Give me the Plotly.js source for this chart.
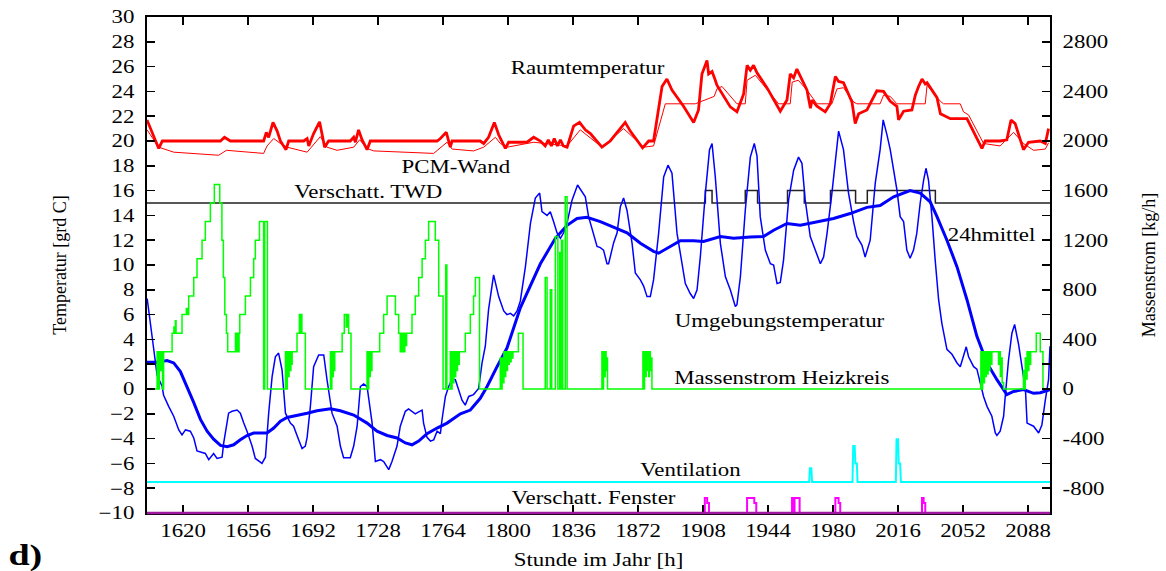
<!DOCTYPE html>
<html><head><meta charset="utf-8">
<script src="https://cdn.plot.ly/plotly-3.0.1.min.js"></script>
<style>body{margin:0;background:#fff}#chart{width:1166px;height:571px}</style>
</head><body><div id="chart"></div>
<script>
// ---- Data (hour of year) ----
const xTicks = [1620,1656,1692,1728,1764,1800,1836,1872,1908,1944,1980,2016,2052,2088];
const yTicks = [-10,-8,-6,-4,-2,0,2,4,6,8,10,12,14,16,18,20,22,24,26,28,30];
const y2Ticks = [-1000,-800,-600,-400,-200,0,200,400,600,800,1000,1200,1400,1600,1800,2000,2200,2400,2600,2800,3000];
const y2TickText = ['','-800','','-400','','0','','400','','800','','1200','','1600','','2000','','2400','','2800',''];

// Raumtemperatur (thick red)
const raumX = [1600,1606.5,1608.5,1640.7,1642.9,1646.2,1664.6,1666.1,1667.4,1669.8,1672.1,1673.9,1677.0,1678.5,1686.8,1688.7,1689.6,1692.3,1695.6,1697.0,1698.4,1700.6,1712.6,1714.5,1715.4,1717.2,1719.1,1721.9,1723.7,1760.7,1762.5,1765.8,1767.1,1768.0,1769.0,1784.6,1786.5,1789.2,1792.4,1794.8,1798.5,1800.3,1810.5,1814.2,1817.9,1820.6,1822.3,1824.0,1825.6,1827.3,1829.0,1830.6,1832.7,1836.3,1839.6,1842.8,1845.6,1852.0,1856.6,1862.2,1864.9,1867.7,1874.5,1877.9,1880.6,1885.3,1888.0,1890.8,1897.2,1902.8,1905.5,1907.4,1910.2,1911.1,1913.0,1914.8,1915.7,1923.1,1926.8,1930.5,1932.4,1934.2,1936.0,1937.9,1943.4,1950.8,1954.5,1956.3,1958.2,1960.0,1962.8,1965.6,1967.5,1968.4,1971.1,1975.7,1978.5,1981.3,1983.1,1985.8,1990.5,1992.3,1994.2,1998.8,2004.3,2008.0,2011.7,2015.4,2016.3,2019.1,2023.7,2025.6,2027.4,2029.3,2031.1,2032.1,2037.6,2039.5,2045.0,2052.3,2054.2,2062.5,2064.3,2072.6,2076.3,2078.6,2080.9,2085.5,2088.3,2094.8,2097.6,2099.4];
const raumY = [21.7,19.4,20.0,20.0,20.3,20.0,20.0,20.7,20.3,21.5,20.8,20.0,19.3,20.0,20.0,20.2,19.6,20.6,21.55,20.6,19.5,20.0,20.0,20.3,19.9,20.9,20.1,19.3,20.0,20.0,20.2,20.7,20.0,19.5,20.0,20.0,19.8,20.3,21.5,20.5,19.4,19.9,19.9,20.3,20.0,19.6,20.1,19.6,20.2,19.6,20.1,19.6,19.5,21.2,21.5,20.9,20.6,19.5,20.0,21.0,21.5,20.8,19.45,20.0,20.0,24.4,25.0,24.1,22.8,21.5,22.5,25.4,26.5,25.4,25.6,24.9,24.5,22.75,22.35,23.8,26.1,25.7,26.1,25.5,24.3,22.4,23.3,25.4,25.1,25.8,25.0,24.1,22.65,23.3,22.8,22.35,23.0,25.2,24.8,24.7,23.15,21.4,22.2,22.5,24.05,24.0,23.2,22.8,21.7,22.4,22.5,23.7,24.4,25.0,24.6,24.7,23.5,22.2,21.8,21.8,21.8,19.4,20.0,20.0,20.1,21.7,21.4,19.3,19.9,20.0,19.8,21.0];

// PCM-Wand (thin red)
const pcmX = [1600,1606.5,1614.8,1639.7,1644.0,1664.6,1666.5,1670.2,1673.9,1677.6,1688.7,1696.0,1699.7,1705.3,1714.5,1717.8,1721.9,1725.6,1758.8,1766.2,1769.0,1780.9,1786.5,1793.0,1795.7,1799.4,1814.2,1825.2,1832.7,1840.0,1852.0,1864.0,1875.1,1880.6,1887.1,1903.7,1914.2,1915.7,1918.5,1926.8,1931.4,1932.4,1937.0,1949.9,1956.3,1957.4,1960.8,1965.6,1971.1,1979.4,1982.2,1985.8,1991.4,1993.2,2006.1,2008.0,2011.7,2015.4,2031.1,2032.1,2039.5,2041.2,2050.5,2052.3,2055.1,2063.4,2072.6,2080.0,2085.5,2091.1,2097.6,2099.4];
const pcmY = [20.9,19.5,19.1,18.85,19.25,19.0,19.6,20.2,19.8,19.5,19.1,20.35,19.5,19.25,19.5,20.1,19.4,19.2,19.0,19.9,19.35,19.2,19.5,20.3,19.8,19.5,19.9,19.7,19.6,20.9,19.5,21.0,19.5,19.6,23.0,23.0,23.6,24.2,24.4,23.0,23.0,24.9,25.3,23.0,23.0,24.75,24.9,24.1,23.0,23.0,24.2,24.3,23.15,23.0,23.0,23.7,23.6,23.0,23.0,24.5,23.2,23.0,23.0,22.35,22.1,19.8,19.6,20.7,19.8,19.25,19.35,19.85];

// Verschatt. TWD (black step)
const twdX = [1600,1909.3,1913.0,1931.4,1938.2,1954.8,1964.1,1978.6,1992.5,1999.0,2036.7,2100.2];
const twdY = [15,16,15,16,15,16,15,16,15,16,15,15];

// Umgebungstemperatur (thin blue)
const ambX = [1600.1,1601.9,1604.7,1605.6,1608.4,1609.2,1612.0,1614.8,1617.6,1619.4,1621.3,1624.0,1625.9,1627.7,1632.3,1634.2,1636.9,1638.8,1641.6,1642.5,1645.2,1647.1,1649.9,1651.7,1653.6,1655.4,1658.2,1660.0,1663.7,1665.6,1667.4,1669.3,1671.1,1672.9,1674.8,1676.7,1679.4,1681.2,1684.0,1685.9,1687.7,1688.7,1690.5,1692.3,1695.1,1697.9,1699.7,1702.5,1705.3,1707.1,1708.9,1712.6,1714.5,1716.4,1718.2,1720.0,1721.9,1724.7,1726.5,1729.3,1731.1,1733.9,1735.7,1738.5,1740.3,1743.1,1744.9,1748.6,1750.5,1752.4,1753.2,1755.1,1757.0,1758.8,1760.7,1762.5,1763.4,1765.3,1767.1,1769.0,1770.8,1772.6,1774.5,1776.3,1778.2,1780.9,1783.7,1785.6,1787.4,1789.2,1791.1,1792.0,1794.8,1797.6,1799.4,1801.3,1803.1,1805.0,1806.8,1809.6,1812.4,1815.1,1817.5,1818.8,1821.6,1823.4,1825.2,1827.1,1829.0,1830.8,1832.7,1835.4,1838.5,1841.0,1842.8,1844.6,1847.4,1849.3,1851.1,1852.9,1854.8,1855.7,1858.5,1860.4,1862.2,1864.0,1865.9,1868.7,1870.5,1873.3,1875.1,1877.0,1878.8,1880.6,1883.4,1886.2,1888.6,1890.8,1893.6,1896.3,1898.2,1900.9,1902.8,1904.7,1906.5,1909.3,1911.6,1913.0,1914.8,1917.6,1920.4,1923.1,1925.9,1926.8,1928.7,1931.4,1934.2,1936.4,1937.9,1939.7,1942.5,1945.3,1947.1,1949.0,1950.8,1952.6,1955.4,1958.2,1960.9,1962.8,1964.6,1967.4,1970.2,1973.0,1974.8,1976.7,1979.4,1982.2,1983.1,1985.8,1988.6,1991.4,1993.2,1996.0,1997.8,2000.6,2003.4,2006.1,2007.8,2009.9,2011.7,2015.4,2017.2,2019.1,2020.9,2022.7,2024.6,2026.4,2028.3,2030.2,2031.5,2032.9,2034.8,2036.6,2038.5,2040.3,2043.1,2045.9,2048.7,2050.5,2052.3,2053.8,2055.1,2057.9,2059.7,2061.6,2063.4,2065.3,2068.0,2069.9,2070.8,2072.6,2074.5,2075.4,2076.3,2077.2,2079.1,2080.6,2082.8,2084.7,2086.6,2087.5,2089.3,2091.1,2093.9,2095.7,2097.6,2099.4,2100.2];
const ambY = [7.3,5.3,2.3,1.1,0.2,-0.5,-1.4,-2.2,-3.3,-3.7,-3.3,-3.4,-3.95,-5.0,-5.2,-5.7,-5.2,-5.6,-5.5,-4.35,-1.95,-1.8,-1.7,-1.95,-2.75,-3.4,-4.6,-5.6,-6.0,-5.5,-1.95,1.0,2.6,2.9,1.55,-1.95,-2.75,-3.0,-4.1,-4.8,-4.6,-3.9,-1.4,1.8,2.75,2.75,0.75,-1.95,-3.0,-4.6,-5.55,-5.55,-4.6,-3.0,0.2,0.4,0.2,-2.75,-5.85,-5.7,-5.85,-6.5,-5.85,-4.6,-3.0,-1.8,-1.6,-2.0,-1.85,-1.7,-2.75,-3.9,-4.2,-4.1,-3.4,-3.6,-2.5,-0.6,0.2,0.8,0.75,0.0,-0.9,-1.3,-0.6,-0.45,0.05,2.1,3.45,6.4,8.25,9.2,7.45,6.3,6.0,6.1,5.9,6.3,7.1,9.85,13.35,15.4,15.8,14.3,14.0,14.3,13.5,12.6,12.15,12.6,13.4,15.2,16.45,15.9,15.5,13.9,12.5,11.5,11.4,11.2,10.1,10.1,11.8,12.6,14.7,15.4,14.4,11.75,9.35,8.8,8.3,7.45,7.45,8.8,12.55,17.1,18.05,17.4,12.55,10.1,8.5,7.7,7.3,8.0,10.65,15.8,19.3,19.8,17.1,11.75,9.05,8.0,6.65,6.8,9.05,14.4,18.7,19.8,18.8,13.9,11.2,10.1,10.0,8.5,8.6,10.4,15.25,17.65,18.7,18.2,15.25,12.3,11.2,10.1,10.65,12.55,15.8,19.3,20.8,19.3,15.8,13.5,12.3,11.6,10.65,12.0,16.6,19.3,21.7,20.5,19.3,16.05,13.9,13.5,11.2,10.55,11.2,12.55,15.0,16.85,17.8,16.85,13.9,10.4,7.2,5.3,3.2,2.8,2.1,1.8,2.6,3.4,2.6,1.8,1.6,0.45,-0.6,-1.4,-2.2,-3.55,-3.75,-3.4,-2.2,-0.6,0.75,2.3,4.5,5.2,3.6,1.8,-0.05,-2.75,-2.9,-3.0,-3.55,-2.9,-0.9,0.75,3.45];

// 24hmittel (thick blue)
const meanX = [1600,1605.6,1611.1,1614.8,1618.5,1622.2,1625.9,1629.6,1633.3,1636.9,1640.7,1644.4,1648.0,1651.7,1655.4,1659.1,1666.5,1670.2,1673.9,1677.6,1683.1,1688.7,1694.2,1701.6,1707.1,1714.5,1721.9,1727.4,1733.0,1738.5,1743.1,1746.8,1750.5,1755.1,1760.7,1766.2,1773.6,1779.1,1784.6,1788.4,1793.9,1799.4,1806.8,1817.9,1826.2,1832.7,1838.2,1843.7,1851.1,1858.5,1865.9,1873.3,1880.6,1883.4,1888.0,1895.4,1902.8,1908.3,1917.6,1924.9,1934.2,1941.5,1947.1,1954.5,1961.9,1971.1,1980.3,1989.5,1998.8,2006.1,2013.6,2022.7,2028.3,2033.8,2037.6,2043.1,2048.7,2054.2,2059.7,2065.3,2070.8,2076.3,2080.0,2085.5,2091.1,2094.8,2100.2];
const meanY = [2.15,2.15,2.3,2.1,1.4,0.2,-1.1,-2.45,-3.4,-4.05,-4.55,-4.65,-4.5,-4.1,-3.75,-3.55,-3.55,-3.15,-2.6,-2.3,-2.15,-1.95,-1.75,-1.6,-1.75,-2.1,-2.75,-3.4,-3.75,-3.95,-4.35,-4.5,-4.2,-3.6,-3.15,-2.75,-2.0,-1.7,-0.75,0.2,1.8,3.3,6.55,10.1,12.15,13.2,13.75,13.85,13.5,13.05,12.6,11.75,11.1,10.95,11.35,11.95,11.95,11.9,12.3,12.15,12.25,12.3,12.8,13.35,13.2,13.5,13.75,14.15,14.65,14.8,15.5,16.0,15.8,15.1,13.9,12.0,9.85,7.2,4.25,2.1,0.75,-0.45,-0.2,-0.05,-0.35,-0.3,-0.05];

// Massenstrom Heizkreis (green, kg/h, right axis), step values
const flowX = [1600,1605.6,1606.2,1606.8,1607.4,1608.0,1608.6,1609.2,1613.9,1614.9,1615.3,1615.7,1616.1,1619.4,1621.8,1622.3,1623.1,1625.9,1627.7,1630.5,1632.3,1635.1,1637.3,1640.3,1641.5,1642.3,1643.1,1644.0,1644.7,1649.0,1649.5,1650.0,1650.5,1651.0,1651.4,1654.5,1657.3,1659.1,1660.0,1662.3,1664.6,1665.2,1666.7,1676.7,1677.2,1677.7,1678.2,1678.7,1679.2,1679.7,1680.2,1680.4,1683.1,1684.4,1684.9,1685.3,1685.8,1687.7,1701.6,1702.0,1702.4,1702.8,1703.2,1703.6,1704.0,1708.1,1709.3,1710.4,1711.0,1711.7,1713.0,1721.9,1722.3,1722.8,1723.2,1723.7,1724.1,1724.6,1728.9,1731.1,1733.0,1737.6,1739.4,1740.3,1740.8,1741.3,1741.8,1742.3,1742.8,1743.3,1743.8,1746.8,1748.6,1750.5,1752.4,1754.2,1756.0,1759.7,1761.6,1764.0,1765.5,1766.1,1768.0,1768.5,1769.0,1769.5,1770.0,1770.5,1771.0,1771.5,1772.0,1772.5,1773.0,1776.3,1779.1,1780.9,1781.9,1784.2,1795.7,1796.2,1796.7,1797.2,1797.7,1798.2,1798.7,1799.2,1799.7,1800.2,1800.7,1801.2,1801.7,1802.2,1802.7,1805.7,1808.3,1820.6,1821.6,1823.4,1824.2,1826.2,1827.6,1828.6,1829.3,1829.6,1830.3,1831.7,1832.7,1852.0,1852.5,1852.9,1853.4,1853.8,1854.3,1854.7,1855.1,1874.7,1875.2,1875.6,1876.1,1876.5,1877.0,1877.4,1877.9,1878.3,1878.8,1879.2,1879.7,2061.9,2062.4,2062.9,2063.4,2063.9,2064.4,2064.9,2065.4,2065.9,2066.4,2066.9,2067.4,2068.0,2071.7,2072.2,2072.7,2073.2,2073.7,2074.5,2085.5,2086.0,2086.5,2087.0,2087.5,2088.0,2088.5,2089.0,2089.5,2092.6,2094.8,2096.3,2100.2];
const flowY = [0,300,0,300,150,300,0,300,450,500,450,550,450,600,650,600,750,900,1050,1200,1350,1500,1650,1500,1200,900,600,450,300,450,300,450,300,450,600,750,900,1050,1200,1350,0,1350,0,300,0,300,100,300,150,300,200,300,450,600,450,600,450,0,300,0,300,100,300,150,300,450,600,500,600,450,0,300,0,300,100,300,150,300,450,600,750,600,450,300,450,300,450,300,450,350,450,600,750,900,1050,1200,1350,1200,750,0,1000,0,300,0,300,50,300,100,300,150,300,200,300,450,600,750,900,0,250,0,250,50,300,100,300,150,300,200,300,220,300,250,300,450,0,900,0,800,0,1230,0,1100,0,1200,0,1550,0,300,0,300,100,300,150,250,0,300,0,300,100,300,150,300,100,300,150,250,0,300,0,300,50,300,100,300,120,300,150,300,200,300,200,300,100,250,50,0,150,0,250,80,300,150,300,200,300,450,300,0,0];

// Ventilation (cyan)
const ventX = [1600,1943.0,1943.5,1944.0,1966.8,1967.2,1968.0,1968.4,1990.8,1991.2,1992.0,1992.4,1993.2,1993.6,2014.8,2015.2,2016.0,2016.4,2017.2,2017.6,2100.2];
const ventY = [-7.5,-7.5,-7.45,-7.5,-7.5,-6.4,-6.4,-7.5,-7.5,-4.6,-4.6,-6.0,-6.0,-7.5,-7.5,-4.05,-4.05,-6.0,-6.0,-7.5,-7.5];

// Verschatt. Fenster (magenta, step)
const fenX = [1600,1909.0,1910.3,1911.3,1932.4,1936.4,1937.5,1957.3,1958.2,1958.7,1961.5,1981.3,1983.1,1984.0,2029.3,2030.2,2031.1,2100.2];
const fenY = [-10,-8.8,-9.2,-10,-8.8,-9.2,-10,-8.8,-10,-8.8,-10,-8.8,-9.2,-10,-8.8,-9.2,-10,-10];

// Labels
const labels = [
  {text:'Raumtemperatur', x:1843.9, y:25.85},
  {text:'PCM-Wand', x:1771.4, y:17.9},
  {text:'Verschatt. TWD', x:1722.8, y:15.9},
  {text:'24hmittel', x:2067.6, y:12.4},
  {text:'Umgebungstemperatur', x:1950.5, y:5.5},
  {text:'Massenstrom Heizkreis', x:1951.4, y:0.9},
  {text:'Ventilation', x:1901.2, y:-6.5},
  {text:'Verschatt. Fenster', x:1847.2, y:-8.75}
];

const FONT = 'Liberation Serif, Times New Roman, serif';
const traces = [
  {x:twdX, y:twdY, mode:'lines', line:{color:'#222', width:1.5, shape:'hv'}},
  {x:flowX, y:flowY, yaxis:'y2', mode:'lines', line:{color:'#00ff00', width:1.5, shape:'hv'}},
  {x:ventX, y:ventY, mode:'lines', line:{color:'#00ffff', width:2}},
  {x:fenX, y:fenY, mode:'lines', line:{color:'#ff00ff', width:2, shape:'hv'}},
  {x:pcmX, y:pcmY, mode:'lines', line:{color:'#ff0000', width:1}},
  {x:raumX, y:raumY, mode:'lines', line:{color:'#ff0000', width:2.8}},
  {x:ambX, y:ambY, mode:'lines', line:{color:'#0000ff', width:1.5}},
  {x:meanX, y:meanY, mode:'lines', line:{color:'#0000ff', width:3}}
];

const annotations = labels.map(l => ({text:l.text, x:l.x, y:l.y, xref:'x', yref:'y', showarrow:false, font:{family:FONT, size:18, color:'#000'}}));
annotations.push({text:'<b>d)</b>', xref:'paper', yref:'paper', x:-0.152, y:-0.085, xanchor:'left', yanchor:'middle', showarrow:false, font:{family:FONT, size:30, color:'#000'}});

const layout = {
  width:1166, height:571,
  margin:{l:147, r:116, t:17, b:58},
  paper_bgcolor:'#fff', plot_bgcolor:'#fff',
  showlegend:false,
  font:{family:FONT, size:18, color:'#000'},
  xaxis:{range:[1600,2100.2], tickvals:xTicks, ticks:'inside', ticklen:8, tickwidth:1.5, tickcolor:'#000',
         showline:true, linecolor:'#000', linewidth:2, mirror:'ticks', showgrid:false, zeroline:false,
         tickfont:{family:FONT, size:18, color:'#000'},
         title:{text:'Stunde im Jahr [h]', font:{family:FONT, size:18, color:'#000'}, standoff:14}},
  yaxis:{range:[-10,30], tickvals:yTicks, ticks:'inside', ticklen:8, tickwidth:1.5, tickcolor:'#000',
         showline:true, linecolor:'#000', linewidth:2, showgrid:false, zeroline:false, ticklabelstandoff:7,
         tickfont:{family:FONT, size:18, color:'#000'},
         title:{text:'Temperatur [grd C]', font:{family:FONT, size:18, color:'#000'}, standoff:35}},
  yaxis2:{range:[-1000,3000], overlaying:'y', side:'right', tickvals:y2Ticks, ticktext:y2TickText,
         ticks:'inside', ticklen:8, tickwidth:1.5, tickcolor:'#000', ticklabelstandoff:7,
         showline:true, linecolor:'#000', linewidth:2, showgrid:false, zeroline:false,
         tickfont:{family:FONT, size:18, color:'#000'},
         title:{text:'Massenstrom [kg/h]', font:{family:FONT, size:18, color:'#000'}, standoff:45}},
  shapes:[
    {type:'line', xref:'paper', yref:'paper', x0:0, x1:1, y0:0, y1:0, line:{color:'#a0189f', width:2.5}, layer:'above'}
  ],
  annotations:annotations
};

Plotly.newPlot('chart', traces, layout, {displayModeBar:false, staticPlot:true}).then(gd => {
  const els = gd.querySelectorAll('.xtick text, .ytick text, .y2tick text, .annotation-text, .g-xtitle text');
  els.forEach(t => {
    const L = t.getComputedTextLength();
    if (L > 0) { t.setAttribute('textLength', (L*1.27).toFixed(1)); t.setAttribute('lengthAdjust','spacingAndGlyphs'); }
  });
});
</script></body></html>
